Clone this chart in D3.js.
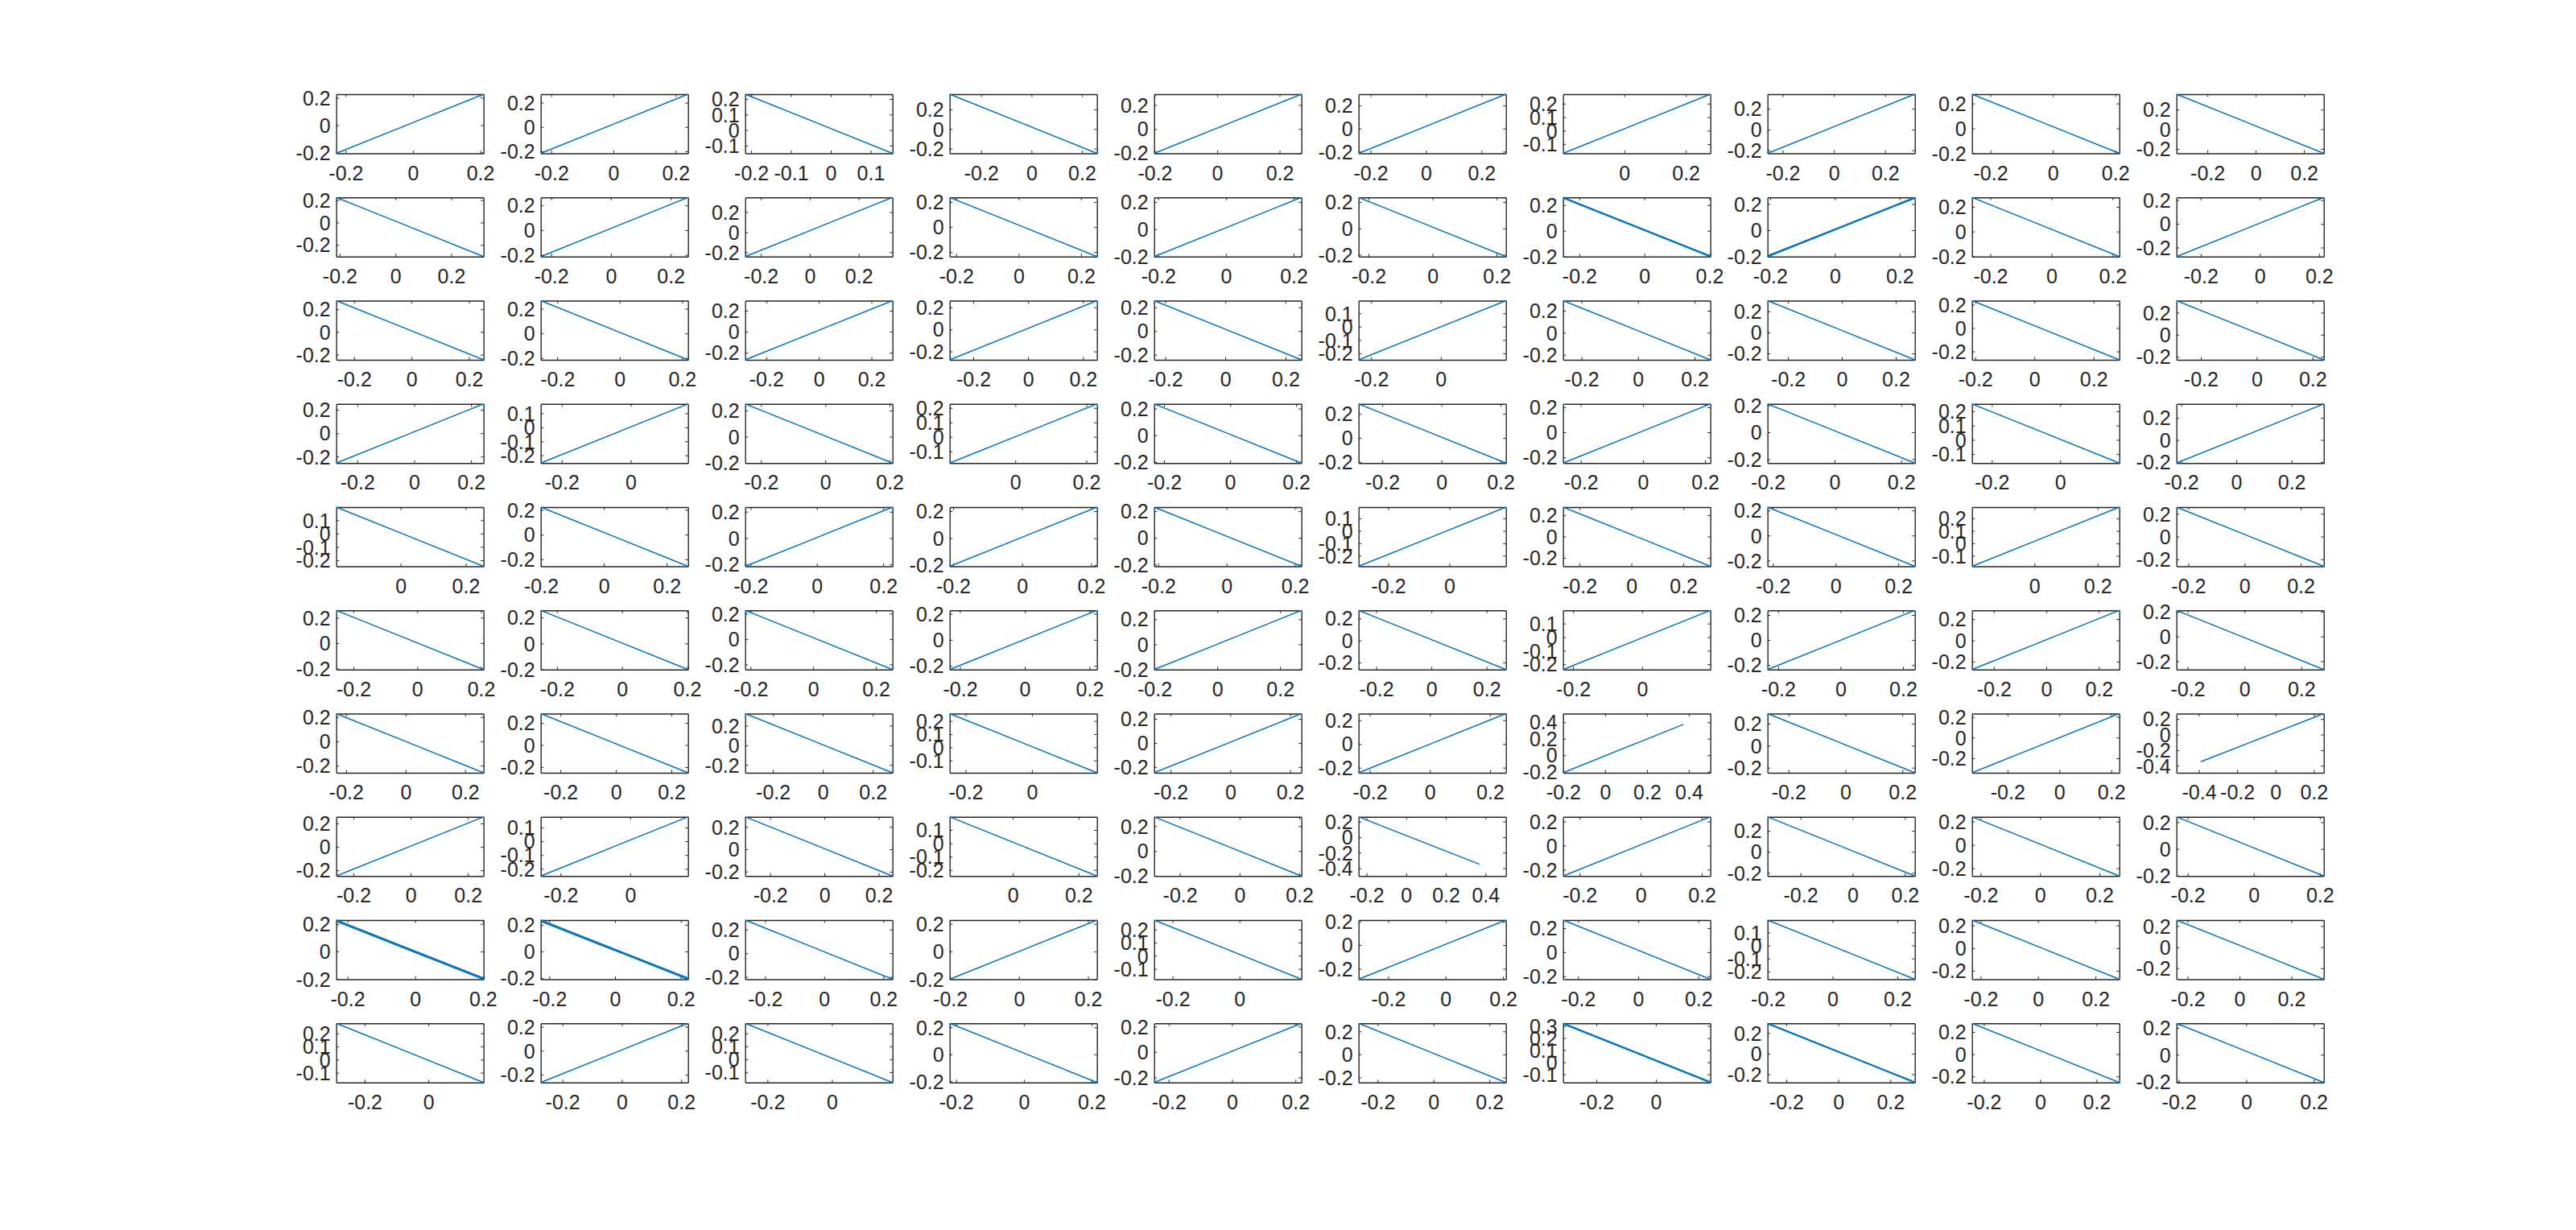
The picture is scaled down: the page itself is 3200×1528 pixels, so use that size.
<!DOCTYPE html>
<html><head><meta charset="utf-8">
<script src="https://cdn.jsdelivr.net/npm/d3@7"></script>
<style>body{margin:0;background:#fff}svg{display:block}</style>
</head><body><svg id="c" width="3200" height="1528"></svg>
<script>
// ---- data: 10x10 subplots, row-major ----
const xLo = [
 -0.228,-0.234,-0.215,-0.325,-0.202,-0.243,-0.199,-0.259,-0.259,-0.328,
 -0.212,-0.235,-0.264,-0.221,-0.212,-0.231,-0.250,-0.208,-0.260,-0.282,
 -0.262,-0.253,-0.280,-0.286,-0.237,-0.236,-0.265,-0.276,-0.211,-0.287,
 -0.274,-0.261,-0.249,-0.185,-0.230,-0.280,-0.257,-0.201,-0.258,-0.217,
 -0.198,-0.201,-0.216,-0.210,-0.212,-0.297,-0.263,-0.217,-0.198,-0.242,
 -0.254,-0.250,-0.217,-0.232,-0.201,-0.264,-0.229,-0.234,-0.283,-0.239,
 -0.233,-0.271,-0.311,-0.248,-0.255,-0.237,-0.201,-0.274,-0.337,-0.517,
 -0.260,-0.257,-0.292,-0.192,-0.286,-0.240,-0.254,-0.326,-0.229,-0.234,
 -0.233,-0.226,-0.267,-0.201,-0.255,-0.303,-0.250,-0.201,-0.230,-0.243,
 -0.289,-0.273,-0.269,-0.219,-0.246,-0.268,-0.312,-0.272,-0.242,-0.207];
const xHi = [
 0.210,0.240,0.155,0.260,0.270,0.288,0.280,0.316,0.213,0.282,
 0.316,0.258,0.338,0.251,0.223,0.229,0.203,0.247,0.222,0.216,
 0.251,0.219,0.280,0.251,0.253,0.187,0.256,0.271,0.287,0.240,
 0.244,0.166,0.209,0.230,0.216,0.218,0.217,0.241,0.173,0.317,
 0.255,0.268,0.228,0.217,0.219,0.185,0.304,0.253,0.269,0.282,
 0.208,0.203,0.253,0.223,0.268,0.270,0.198,0.238,0.278,0.279,
 0.262,0.260,0.279,0.196,0.238,0.253,0.503,0.244,0.231,0.252,
 0.255,0.166,0.251,0.256,0.207,0.503,0.228,0.238,0.267,0.212,
 0.202,0.222,0.231,0.226,0.185,0.210,0.240,0.254,0.283,0.325,
 0.173,0.223,0.188,0.216,0.219,0.259,0.183,0.294,0.281,0.230];
const yLo = [
 -0.206,-0.217,-0.150,-0.248,-0.203,-0.215,-0.168,-0.230,-0.201,-0.245,
 -0.305,-0.214,-0.244,-0.236,-0.201,-0.214,-0.201,-0.201,-0.203,-0.276,
 -0.245,-0.214,-0.267,-0.276,-0.243,-0.248,-0.246,-0.261,-0.272,-0.228,
 -0.255,-0.255,-0.201,-0.181,-0.208,-0.209,-0.246,-0.228,-0.163,-0.210,
 -0.245,-0.257,-0.214,-0.208,-0.213,-0.285,-0.279,-0.246,-0.184,-0.262,
 -0.208,-0.202,-0.240,-0.228,-0.201,-0.264,-0.239,-0.236,-0.273,-0.268,
 -0.258,-0.252,-0.279,-0.194,-0.248,-0.243,-0.213,-0.246,-0.340,-0.490,
 -0.249,-0.252,-0.239,-0.245,-0.201,-0.499,-0.253,-0.230,-0.266,-0.203,
 -0.201,-0.208,-0.220,-0.201,-0.179,-0.288,-0.225,-0.260,-0.274,-0.305,
 -0.174,-0.264,-0.180,-0.208,-0.240,-0.244,-0.168,-0.280,-0.255,-0.206];
const yHi = [
 0.226,0.270,0.231,0.355,0.290,0.299,0.270,0.342,0.275,0.356,
 0.224,0.265,0.347,0.237,0.234,0.235,0.260,0.250,0.276,0.223,
 0.276,0.265,0.295,0.261,0.256,0.195,0.291,0.302,0.234,0.309,
 0.251,0.167,0.251,0.228,0.235,0.283,0.227,0.210,0.252,0.327,
 0.198,0.222,0.235,0.230,0.230,0.191,0.275,0.227,0.291,0.259,
 0.258,0.256,0.226,0.226,0.270,0.273,0.197,0.237,0.281,0.211,
 0.227,0.285,0.322,0.256,0.244,0.256,0.505,0.291,0.232,0.269,
 0.257,0.177,0.290,0.198,0.275,0.260,0.239,0.333,0.240,0.240,
 0.228,0.235,0.279,0.228,0.271,0.211,0.267,0.195,0.247,0.257,
 0.276,0.228,0.278,0.230,0.226,0.270,0.322,0.295,0.278,0.234];
// direction of the line: 1 rising, -1 falling
const slope = [
  1, 1,-1,-1, 1, 1, 1, 1,-1,-1,
 -1, 1, 1,-1, 1,-1,-1, 1,-1, 1,
 -1,-1, 1, 1,-1, 1,-1,-1,-1,-1,
  1, 1,-1, 1,-1,-1, 1,-1,-1, 1,
 -1,-1, 1, 1,-1, 1,-1,-1, 1,-1,
 -1,-1,-1, 1, 1,-1, 1, 1, 1,-1,
 -1,-1,-1,-1, 1, 1, 1,-1, 1, 1,
  1, 1,-1,-1,-1,-1, 1,-1,-1,-1,
 -1,-1,-1, 1,-1, 1,-1,-1,-1,-1,
 -1, 1,-1,-1, 1,-1,-1,-1,-1,-1];
// scatter about the line (data units), where the trace looks doubled
const spread = {16:0.006, 17:0.006, 80:0.010, 81:0.010, 96:0.006, 97:0.005};
// traces that stop short of the axes limits: [x0, y0, x1, y1]
const partialEnds = {
 66: [-0.201, -0.213, 0.374, 0.375],
 69: [-0.390, -0.348, 0.252, 0.269],
 75: [-0.240, 0.260, 0.370, -0.348]
};
// tick spacing (0.2 unless listed)
const xTickStep01 = [2];
const yTickStep01 = [2,6,25,31,33,38,40,45,48,56,63,71,73,84,87,90,92,96];

// ---- layout ----
const left0 = 417.7, colPitch = 254, top0 = 117, rowPitch = 128.25;
const W = 183, H = 73.5, TICK = 3.5;
const ink = '#262626', lineColor = '#0072BD';
const FONT = '"Liberation Sans", Arial, Helvetica, sans-serif';

function ticks(lo, hi, step) {
  const out = [];
  const k0 = Math.ceil(lo / step - 1e-9), k1 = Math.floor(hi / step + 1e-9);
  for (let k = k0; k <= k1; k++) out.push(Math.round(k * step * 10) / 10);
  return out;
}
const fmt = v => { const s = (+v.toFixed(1)).toString(); return s === '-0' ? '0' : s; };

const svg = d3.select('#c');
svg.append('rect').attr('width', 3200).attr('height', 1528).attr('fill', '#fff');

for (let i = 0; i < 100; i++) {
  const r = Math.floor(i / 10), c = i % 10;
  const L = left0 + c * colPitch, T = top0 + r * rowPitch;
  const x = d3.scaleLinear().domain([xLo[i], xHi[i]]).range([L, L + W]);
  const y = d3.scaleLinear().domain([yLo[i], yHi[i]]).range([T + H, T]);
  const xt = ticks(xLo[i], xHi[i], xTickStep01.includes(i) ? 0.1 : 0.2);
  const yt = ticks(yLo[i], yHi[i], yTickStep01.includes(i) ? 0.1 : 0.2);
  const g = svg.append('g');

  const style = sel => {
    sel.select('.domain').attr('stroke', ink).attr('stroke-width', 1.4);
    sel.selectAll('.tick line').attr('stroke', ink).attr('stroke-width', 1);
    sel.selectAll('text').attr('fill', ink).style('font-family', FONT).style('font-size', '25px');
  };
  g.append('g').attr('transform', `translate(0,${T + H})`)
    .call(d3.axisBottom(x).tickValues(xt).tickFormat(fmt).tickSizeInner(-TICK).tickSizeOuter(0).tickPadding(15))
    .call(style).call(s => s.selectAll('text').attr('y', 33).attr('dy', null));
  g.append('g').attr('transform', `translate(0,${T})`)
    .call(d3.axisTop(x).tickValues(xt).tickFormat('').tickSizeInner(-TICK).tickSizeOuter(0))
    .call(style);
  g.append('g').attr('transform', `translate(${L},0)`)
    .call(d3.axisLeft(y).tickValues(yt).tickFormat(fmt).tickSizeInner(-TICK).tickSizeOuter(0).tickPadding(7))
    .call(style).call(s => s.selectAll('text').attr('x', -7).attr('dy', '0.35em'));
  g.append('g').attr('transform', `translate(${L + W},0)`)
    .call(d3.axisRight(y).tickValues(yt).tickFormat('').tickSizeInner(-TICK).tickSizeOuter(0))
    .call(style);
  g.selectAll('.domain').attr('fill', 'none');

  let pts;
  if (partialEnds[i]) {
    const p = partialEnds[i];
    pts = [[p[0], p[1]], [p[2], p[3]]];
  } else if (slope[i] > 0) {
    pts = [[xLo[i], yLo[i]], [xHi[i], yHi[i]]];
  } else {
    pts = [[xLo[i], yHi[i]], [xHi[i], yLo[i]]];
  }
  const line = d3.line().x(d => x(d[0])).y(d => y(d[1]));
  const offsets = spread[i] ? [-spread[i], 0, spread[i]] : [0];
  offsets.forEach(o => {
    const shifted = pts.map(p => [p[0], Math.max(yLo[i], Math.min(yHi[i], p[1] + o))]);
    g.append('path').datum(shifted).attr('d', line)
      .attr('fill', 'none').attr('stroke', lineColor).attr('stroke-width', 1.4);
  });
}
</script></body></html>
